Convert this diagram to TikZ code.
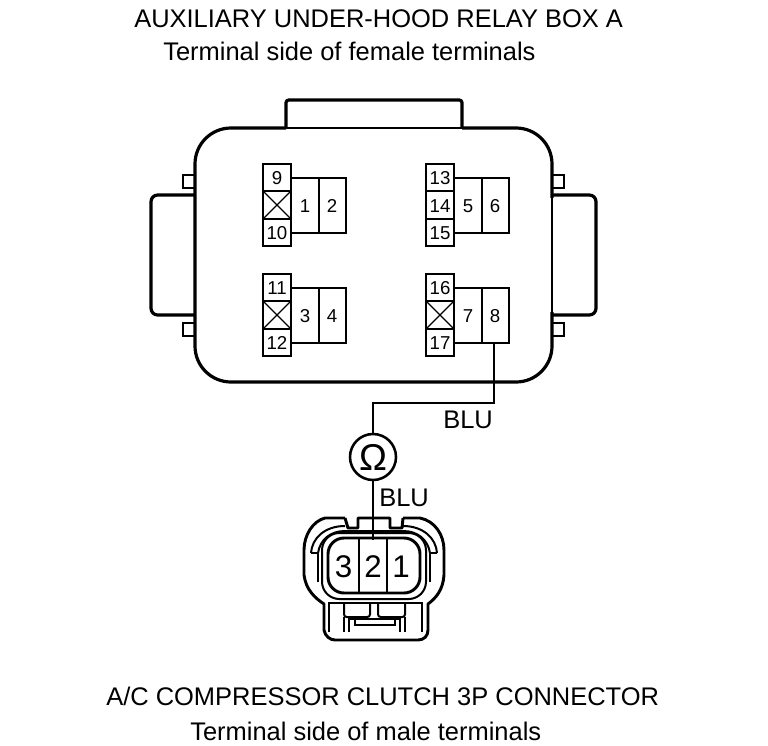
\documentclass[tikz,border=0pt]{standalone}
\usepackage{fontspec}
\setmainfont{Liberation Sans}
\newcommand{\fs}[1]{\fontsize{#1}{#1}\selectfont}
\tikzset{
  x=0.75pt,y=-0.75pt,
  thick line/.style={line width=2.4pt,line join=round},
  conn line/.style={line width=2.2pt,line join=round},
  mid line/.style={line width=1.8pt},
  box line/.style={line width=1.5pt},
  thin line/.style={line width=0.9pt},
  title/.style={inner sep=0pt,anchor=west,font=\fs{19.1}},
  num/.style={inner sep=0pt,font=\fs{14}},
  pin/.style={inner sep=0pt,font=\fs{23.5}},
  wirelabel/.style={inner sep=0pt,anchor=west,font=\fs{19.1}}
}
\begin{document}
\begin{tikzpicture}
\useasboundingbox (0,0) rectangle (768,746);
\fill[white] (0,0) rectangle (768,746);
\node[title] (t1) at (134,19) {AUXILIARY UNDER-HOOD RELAY BOX A};
\node[title] (t2) at (163,51) {Terminal side of female terminals};
\node[title] (t3) at (106,696) {A/C COMPRESSOR CLUTCH 3P CONNECTOR};
\node[title] (t4) at (190,731) {Terminal side of male terminals};
% body
\draw[thick line,rounded corners=2pt] (286,128) -- (286,100) -- (462,100) -- (462,128);
\draw[thick line,rounded corners=27pt] (286,128) -- (195,128) -- (195,382) -- (552,382) -- (552,128) -- (462,128);
\draw[white,line width=3pt] (288,128) -- (460,128);
\draw[thin line] (285,128) -- (463,128);
\draw[white,line width=3pt] (552,198) -- (552,312);
\draw[thin line] (552,195) -- (552,315);
% side tabs
\draw[mid line] (195,175) -| (183,188) -- (195,188);
\draw[mid line] (195,323) -| (183,336) -- (195,336);
\draw[mid line] (552,175) -| (564,188) -- (552,188);
\draw[mid line] (552,323) -| (564,336) -- (552,336);
\draw[thick line,rounded corners=5pt] (195,195) -- (151,195) -- (151,315) -- (195,315);
\draw[thick line,rounded corners=5pt] (552,195) -- (596,195) -- (596,315) -- (552,315);
% terminals
\foreach \xa/\ya/\n/\nx/\a/\b/\c/\cross in {263/164/a/9/1/2/10/1,263/274/b/11/3/4/12/1,426/164/c/13/5/6/15/0,426/274/d/16/7/8/17/1}{
  \pgfmathsetmacro{\xb}{\xa+28}
  \pgfmathsetmacro{\xc}{\xa+56}
  \pgfmathsetmacro{\xd}{\xa+83}
  \pgfmathsetmacro{\yb}{\ya+27}
  \pgfmathsetmacro{\yc}{\ya+55}
  \pgfmathsetmacro{\yd}{\ya+82}
  \draw[mid line] (\xa,\ya) rectangle (\xb,\yd);
  \draw[mid line] (\xa,\yb) -- (\xb,\yb) (\xa,\yc) -- (\xb,\yc);
  \draw[box line] (\xb,\ya+14) -- (\xd,\ya+14) -- (\xd,\ya+69) -- (\xb,\ya+69);
  \draw[box line] (\xc,\ya+14) -- (\xc,\ya+69);
  \ifnum\cross=1
    \draw[thin line] (\xa,\yb) -- (\xb,\yc) (\xa,\yc) -- (\xb,\yb);
  \fi
  \node[num] (top\n) at (\xa+14,\ya+14) {\nx};
  \node[num] (bot\n) at (\xa+14,\ya+69) {\c};
  \node[num] (l\n) at (\xb+14,\ya+42) {\a};
  \node[num] (r\n) at (\xc+13,\ya+42) {\b};
}
\node[num] (n14) at (440,206) {14};
% wire
\coordinate (w0) at (494,343);
\coordinate (w1) at (494,403);
\coordinate (w2) at (373,403);
\node[circle,draw,line width=1.9pt,minimum size=34.5pt,inner sep=0pt,font=\fs{28}] (om) at (373,457) {Ω};
\coordinate (w3) at (373,540);
\draw[thin line] (w0) -- (w1) -- (w2) -- (om);
\draw[thin line] (om) -- (w3);
\node[wirelabel] (b1) at (443,420) {BLU};
\node[wirelabel] (b2) at (379,498) {BLU};
% 3P connector outline
\draw[conn line] (345,518) -- (325,518) .. controls (313,521) and (304,535) .. (304,550) -- (304,575) .. controls (306,590) and (315,598) .. (324,604) -- (324,630) .. controls (325,636) and (330,640) .. (335,640) -- (418,640) .. controls (424,640) and (428,636) .. (428,630) -- (428,604) .. controls (436,598) and (443,590) .. (444,575) -- (444,550) .. controls (444,535) and (435,521) .. (420,518) -- (403,518);
\draw[conn line] (345,518) -- (348,528) -- (358,528) -- (358,518) -- (390,518) -- (390,528) -- (402,528) -- (403,518);
% second layer
\draw[box line] (311,553) .. controls (312,538) and (325,526) .. (345,526);
\draw[box line] (437,553) .. controls (436,538) and (423,526) .. (403,526);
\draw[box line] (311,553) -- (318,553) -- (318,582) (437,553) -- (430,553) -- (430,582);
\draw[box line] (318,553) .. controls (320,540) and (330,531) .. (345,531) -- (403,531) .. controls (418,531) and (428,540) .. (430,553);
% pin cavity
\draw[box line,rounded corners=13pt] (322,533) -- (426,533) -- (426,599) -- (322,599) -- cycle;
\draw[conn line,rounded corners=12pt] (328,538) -- (420,538) -- (420,593) -- (328,593) -- cycle;
\draw[thin line] (359,538) -- (359,593) (387,538) -- (387,593);
\node[pin] (p3) at (343.5,567) {3};
\node[pin] (p2) at (373,567) {2};
\node[pin] (p1) at (401,567) {1};
% latch
\draw[box line] (329,632) -- (329,603) -- (422,603) -- (422,632);
\draw[box line,rounded corners=2pt] (370,604) -- (370,617) -- (344,617) -- (344,604);
\draw[box line,rounded corners=2pt] (378,604) -- (378,617) -- (405,617) -- (405,604);
\draw[box line] (344,617) -- (344,632) (405,617) -- (405,632);
\draw[thin line] (349,618) -- (349,632) (400,618) -- (400,632);
\draw[box line] (350,618.5) -- (400,618.5);
\draw[box line] (355,618) -- (355,625) -- (395,625) -- (395,618);
\end{tikzpicture}
\end{document}
